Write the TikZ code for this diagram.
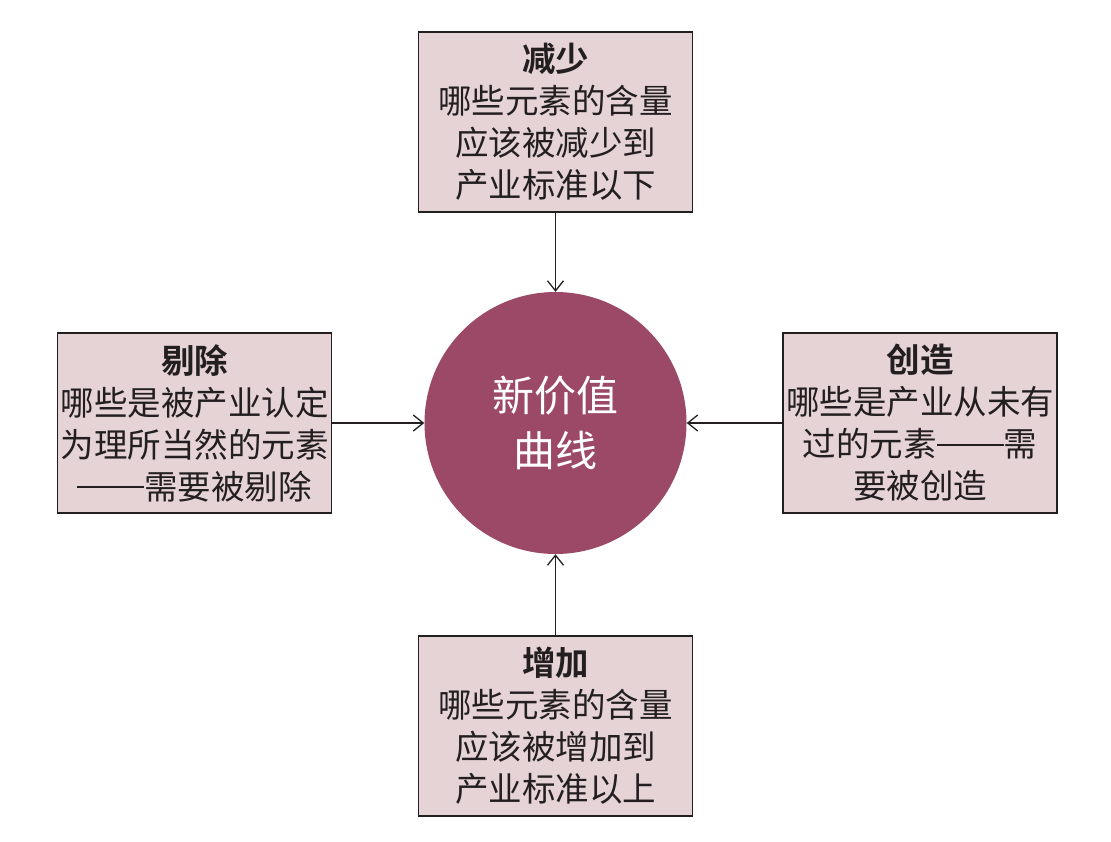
\documentclass[tikz,border=0pt]{standalone}
\usepackage{fontspec}
\setmainfont{Noto Sans CJK SC}[BoldFont={Noto Sans CJK SC Bold}]
\usetikzlibrary{arrows.meta}
\definecolor{boxfill}{HTML}{E5D3D6}
\definecolor{circfill}{HTML}{9B4966}
\definecolor{ink}{HTML}{231F20}
\newcommand{\cjkdash}{\rule[0.34em]{2em}{1.6pt}}
\begin{document}
\begin{tikzpicture}[x=1pt,y=-1pt,
  infobox/.style={draw=ink, line width=1.6pt, fill=boxfill, minimum width=274pt,
    minimum height=180pt, inner sep=0pt, align=center, text=ink,
    font=\fontsize{33.5}{42}\selectfont},
  core/.style={circle, fill=circfill, minimum size=262pt, inner sep=0pt, text=white,
    align=center, font=\fontsize{42}{55}\selectfont},
  conn/.style={draw=ink, line width=1.3pt, -{Straight Barb[length=10pt,width=16pt]}}
]
\useasboundingbox[fill=white] (0,0) rectangle (1111,841);
\node[core] (c) at (555.5,423) {新价值\\曲线};
\node[infobox] (top) at (555.5,122) {\textbf{减少}\\哪些元素的含量\\应该被减少到\\产业标准以下};
\node[infobox] (bot) at (555.5,726) {\textbf{增加}\\哪些元素的含量\\应该被增加到\\产业标准以上};
\node[infobox] (lft) at (194.5,423) {\textbf{剔除}\\哪些是被产业认定\\为理所当然的元素\\\cjkdash 需要被剔除};
\node[infobox] (rgt) at (920,423) {\textbf{创造}\\哪些是产业从未有\\过的元素\cjkdash 需\\要被创造};
\draw[conn] (top) -- (c);
\draw[conn] (bot) -- (c);
\draw[conn] (lft) -- (c);
\draw[conn] (rgt) -- (c);
\end{tikzpicture}
\end{document}
